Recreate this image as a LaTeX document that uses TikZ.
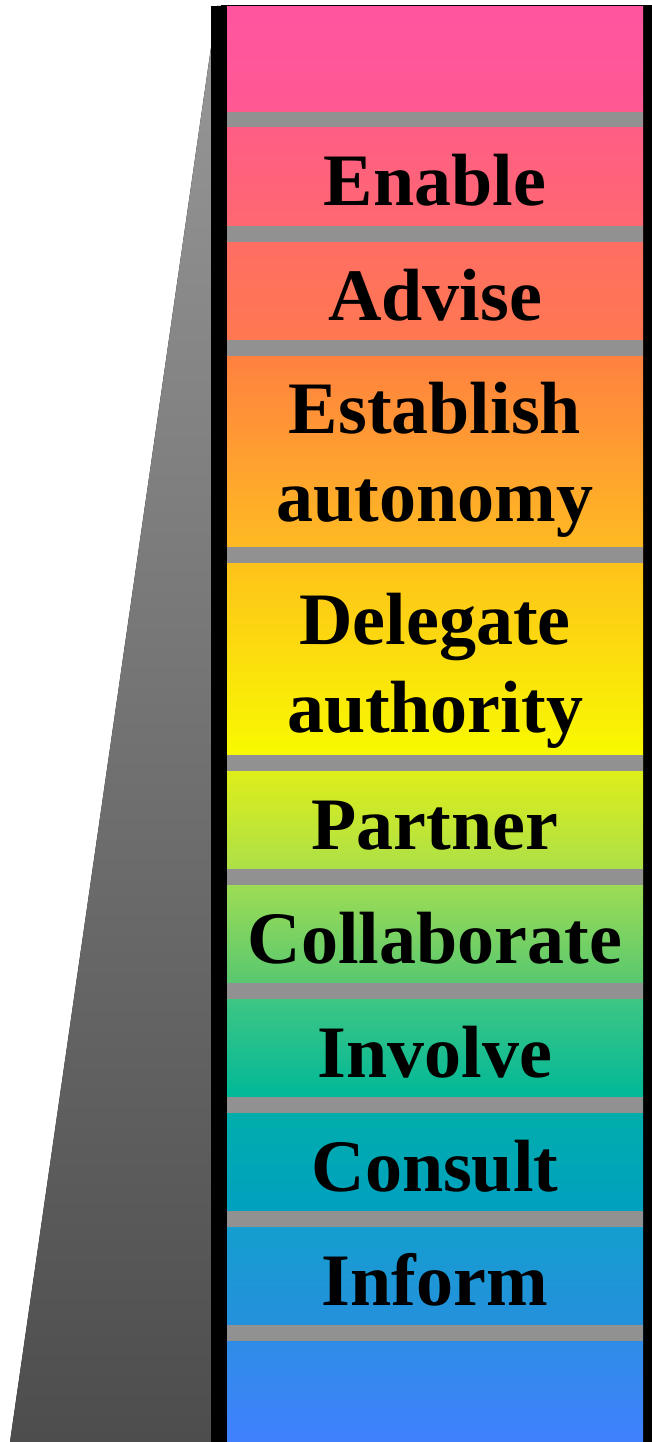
\documentclass[tikz,border=0pt]{standalone}
\usepackage{fontspec}
\setmainfont{Liberation Serif}
\usepackage{tikz}
\usetikzlibrary{positioning}
\tikzset{rung/.style = {font=\bfseries\fontsize{74}{88}\selectfont,
                        align=center, inner sep=0pt, anchor=base},
         gap/.style = {fill=mgray, draw=none}}
\definecolor{mgray}{RGB}{145,145,145}

\begin{document}
\begin{tikzpicture}[x=1pt, y=-1pt]
      \useasboundingbox (0, 0) rectangle (652, 1442);

      % grey wedge on the left
      \fill [top color={rgb,255:red,152;green,152;blue,152},
             bottom color={rgb,255:red,77;green,77;blue,77}]
            (217, 6) -- (10, 1442) -- (227, 1442) -- (227, 6) -- cycle;

      % black frame
      \fill [black] (211, 6) rectangle (227, 1442);
      \fill [black] (221, 5) rectangle (652, 7);
      \fill [black] (643, 6) rectangle (652, 1442);

      % coloured bands, top to bottom
      \foreach \a/\b/\ct/\cb in {7/112/FF55A0/FF5892, 112/226/FF5C88/FF6870,
                                 226/340/FF6C66/FF7850, 340/547/FF7C42/FFBA22,
                                 547/755/FFBE1C/F8FA00, 755/869/E6F012/ACE048,
                                 869/983/A8E050/58C870, 983/1097/48C880/00B898,
                                 1097/1211/00B0A8/00A0C0, 1211/1325/12A0CC/2590DD,
                                 1325/1442/2C8EE2/4080FF} {
        \definecolor{ctop}{HTML}{\ct};
        \definecolor{cbot}{HTML}{\cb};
        \fill [top color=ctop, bottom color=cbot] (227, \a) rectangle (643, \b);
      }

      % grey separators
      \foreach \y in {112, 226, 340, 547, 755, 869, 983, 1097, 1211, 1325} {
        \fill [gap] (227, \y) rectangle (643, \y + 15.5);
      }

      % base of a two-line node sits on its last line
      \node [rung] (enable) at (435, 206) {Enable};
      \node [rung] (advise) at (435, 320) {Advise};
      \node [rung] (establish) at (435, 521) {Establish\\autonomy};
      \node [rung] (delegate) at (435, 732) {Delegate\\authority};
      \node [rung] (partner) at (435, 849) {Partner};
      \node [rung] (collaborate) at (435, 963) {Collaborate};
      \node [rung] (involve) at (435, 1077) {Involve};
      \node [rung] (consult) at (435, 1191) {Consult};
      \node [rung] (inform) at (435, 1305) {Inform};
    \end{tikzpicture}
\end{document}
